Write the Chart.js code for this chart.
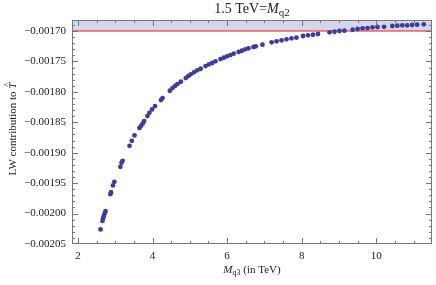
<!DOCTYPE html>
<html>
<head>
<meta charset="utf-8">
<script src="https://cdn.jsdelivr.net/npm/chart.js@4/dist/chart.umd.min.js"></script>
<style>
  html, body { margin: 0; padding: 0; background: #fff; }
  #wrap { width: 436px; height: 285px; }
</style>
</head>
<body>
<div id="wrap"><canvas id="myChart" width="436" height="285"></canvas></div>
<script>
// M_q3 (TeV)
var mq3 = [2.604, 2.657, 2.673, 2.691, 2.718, 2.737, 2.870, 2.886, 2.939, 2.976,
    3.136, 3.170, 3.197, 3.383, 3.444, 3.516, 3.649, 3.694, 3.737, 3.774,
    3.862, 3.915, 3.987, 4.066, 4.226, 4.269, 4.465, 4.535, 4.606, 4.668,
    4.758, 4.891, 4.960, 5.024, 5.112, 5.199, 5.290, 5.423, 5.511, 5.598,
    5.689, 5.822, 5.910, 5.997, 6.088, 6.176, 6.309, 6.396, 6.487, 6.574,
    6.707, 6.769, 6.947, 7.194, 7.327, 7.460, 7.593, 7.726, 7.859, 8.037,
    8.170, 8.303, 8.436, 8.747, 8.880, 9.013, 9.146, 9.367, 9.500, 9.633,
    9.766, 9.899, 10.032, 10.210, 10.431, 10.564, 10.697, 10.830, 10.963, 11.096,
    11.274];
// LW contribution to T-hat
var lwT = [-0.0020261, -0.0020120, -0.0020081, -0.0020043, -0.0019998, -0.0019960, -0.0019681, -0.0019648, -0.0019538, -0.0019479,
    -0.0019232, -0.0019166, -0.0019133, -0.0018886, -0.0018804, -0.0018715, -0.0018595, -0.0018558, -0.0018518, -0.0018480,
    -0.0018398, -0.0018344, -0.0018288, -0.0018234, -0.0018135, -0.0018102, -0.0017982, -0.0017937, -0.0017900, -0.0017872,
    -0.0017834, -0.0017773, -0.0017740, -0.0017712, -0.0017679, -0.0017646, -0.0017620, -0.0017576, -0.0017548, -0.0017526,
    -0.0017498, -0.0017461, -0.0017439, -0.0017416, -0.0017395, -0.0017373, -0.0017345, -0.0017324, -0.0017301, -0.0017285,
    -0.0017263, -0.0017252, -0.0017225, -0.0017186, -0.0017169, -0.0017153, -0.0017137, -0.0017120, -0.0017110, -0.0017082,
    -0.0017071, -0.0017061, -0.0017049, -0.0017021, -0.0017012, -0.0017000, -0.0016995, -0.0016979, -0.0016967, -0.0016956,
    -0.0016951, -0.0016939, -0.0016934, -0.0016931, -0.0016918, -0.0016913, -0.0016906, -0.0016906, -0.0016901, -0.0016896,
    -0.0016890];
var xTicks = [2, 4, 6, 8, 10];
var yTicks = [-0.00205, -0.00200, -0.00195, -0.00190, -0.00185, -0.00180, -0.00175, -0.00170];
var limitT = -0.00170;
var xRange = [1.84, 11.495];
var yRange = [-0.00205, -0.0016819];

var serif = "'Liberation Serif', 'DejaVu Serif', serif";

function pts() {
    var out = [];
    for (var i = 0; i < mq3.length; i++) out.push({x: mq3[i], y: lwT[i]});
    return out;
}

// Mathematica-like frame with inward ticks, title and axis labels
var framePlugin = {
    id: 'frame',
    afterDraw: function (chart) {
        var c = chart.ctx, a = chart.chartArea;
        var xs = chart.scales.x, ys = chart.scales.y;
        c.save();
        c.strokeStyle = '#777';
        c.lineWidth = 1;
        c.strokeRect(a.left + 0.5, a.top + 0.5, a.right - a.left - 1, a.bottom - a.top - 1);
        c.beginPath();
        var v, px, len;
        for (v = 1.5; v <= 11.5; v += 0.5) {
            px = Math.round(xs.getPixelForValue(v)) + 0.5;
            if (px < a.left || px > a.right) continue;
            len = (Math.abs(v / 2 - Math.round(v / 2)) < 1e-6) ? 6 : 3;
            c.moveTo(px, a.bottom); c.lineTo(px, a.bottom - len);
            c.moveTo(px, a.top); c.lineTo(px, a.top + len);
        }
        for (var k = -210; k <= -168; k++) {
            v = k * 0.00001;
            px = Math.round(ys.getPixelForValue(v)) + 0.5;
            if (px < a.top || px > a.bottom) continue;
            len = (k % 5 === 0) ? 6 : 3;
            c.moveTo(a.left, px); c.lineTo(a.left + len, px);
            c.moveTo(a.right, px); c.lineTo(a.right - len, px);
        }
        c.stroke();

        c.fillStyle = '#222';
        c.textBaseline = 'alphabetic';
        // title: 1.5 TeV=M_q2
        var cx = (a.left + a.right) / 2;
        var f1 = '14px ' + serif, f2 = 'italic 14px ' + serif, f3 = '11px ' + serif;
        c.font = f1; var w1 = c.measureText('1.5 TeV=').width;
        c.font = f2; var w2 = c.measureText('M').width;
        c.font = f3; var w3 = c.measureText('q2').width;
        var x0 = cx - (w1 + w2 + w3) / 2;
        c.textAlign = 'left';
        c.font = f1; c.fillText('1.5 TeV=', x0, 13);
        c.font = f2; c.fillText('M', x0 + w1, 13);
        c.font = f3; c.fillText('q2', x0 + w1 + w2, 16);

        // x label: M_q3 (in TeV)
        var g1 = 'italic 11px ' + serif, g2 = '8px ' + serif, g3 = '11px ' + serif;
        c.font = g1; var u1 = c.measureText('M').width;
        c.font = g2; var u2 = c.measureText('q3').width;
        c.font = g3; var u3 = c.measureText(' (in TeV)').width;
        x0 = cx - (u1 + u2 + u3) / 2;
        c.font = g1; c.fillText('M', x0, 273);
        c.font = g2; c.fillText('q3', x0 + u1, 275);
        c.font = g3; c.fillText(' (in TeV)', x0 + u1 + u2, 273);

        // y label
        c.translate(16, 129);
        c.rotate(-Math.PI / 2);
        c.font = g3; var t1 = c.measureText('LW contribution to ').width;
        c.font = g1; var t2 = c.measureText('T').width;
        x0 = -(t1 + t2) / 2;
        c.font = g3; c.fillText('LW contribution to ', x0, 0);
        c.font = g1; c.fillText('T', x0 + t1, 0);
        c.font = '9px ' + serif; c.textAlign = 'center';
        c.fillText('^', x0 + t1 + t2 / 2 + 1, -6);
        c.restore();
    }
};

var ctx = document.getElementById('myChart').getContext('2d');
var myChart = new Chart(ctx, {
    type: 'scatter',
    data: {
        datasets: [{
            label: 'points',
            data: pts(),
            backgroundColor: 'rgb(61,61,153)',
            borderWidth: 0,
            pointRadius: 2.4,
            order: 1
        }, {
            label: 'limit',
            type: 'line',
            data: [{x: xRange[0], y: limitT}, {x: xRange[1], y: limitT}],
            borderColor: 'rgb(225,30,30)',
            borderWidth: 1.2,
            pointRadius: 0,
            fill: 'end',
            backgroundColor: 'rgba(200,200,228,0.75)',
            order: 2
        }]
    },
    options: {
        responsive: false,
        animation: false,
        events: [],
        layout: {padding: {top: 20, right: 1, left: 0, bottom: 0}},
        plugins: {legend: {display: false}, tooltip: {enabled: false}},
        scales: {
            x: {
                type: 'linear',
                min: xRange[0],
                max: xRange[1],
                afterBuildTicks: function (s) { s.ticks = xTicks.map(function (v) { return {value: v}; }); },
                afterFit: function (s) { s.height = 41; },
                grid: {display: false, drawTicks: false},
                border: {display: false},
                ticks: {padding: 6, color: '#222', font: {family: serif, size: 11}, maxRotation: 0,
                    callback: function (v) { return String(v); }}
            },
            y: {
                type: 'linear',
                min: yRange[0],
                max: yRange[1],
                afterBuildTicks: function (s) { s.ticks = yTicks.map(function (v) { return {value: v}; }); },
                afterFit: function (s) { s.width = 72; },
                grid: {display: false, drawTicks: false},
                border: {display: false},
                ticks: {padding: 6, color: '#222', font: {family: serif, size: 11},
                    callback: function (v) { return '\u2212' + Math.abs(v).toFixed(5); }}
            }
        }
    },
    plugins: [framePlugin]
});
</script>
</body>
</html>
